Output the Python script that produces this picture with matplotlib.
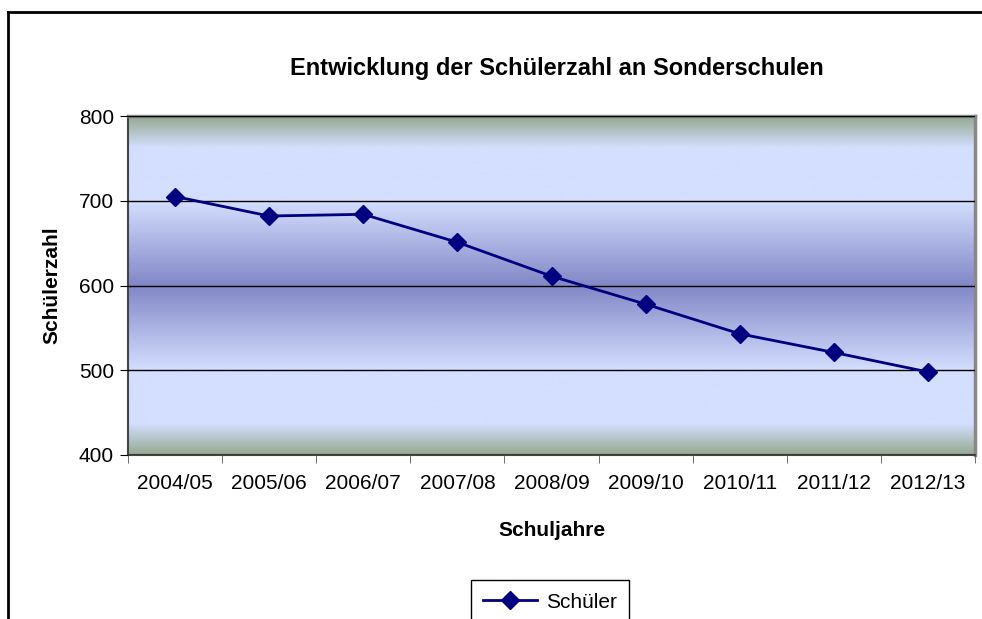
import numpy as np
import matplotlib
matplotlib.use('Agg')
import matplotlib.pyplot as plt
from matplotlib.colors import LinearSegmentedColormap
from matplotlib.lines import Line2D

plt.rcParams['font.family'] = ['Liberation Sans', 'DejaVu Sans']

# Data
schuljahre = ['2004/05', '2005/06', '2006/07', '2007/08', '2008/09',
              '2009/10', '2010/11', '2011/12', '2012/13']
schueler = [705, 682, 684, 651, 611, 578, 543, 521, 498]

fig = plt.figure(figsize=(9.82, 6.19), dpi=100)
ax = fig.add_axes([128 / 982, 1 - 455 / 619, 847 / 982, 339 / 619])

# Background gradient (Excel style)
cmap = LinearSegmentedColormap.from_list('bg', [
    (0.0, '#96aa92'), (0.09, '#d4defe'), (0.25, '#d4defe'),
    (0.5, '#8287c6'), (0.75, '#d4defe'), (0.91, '#d4defe'), (1.0, '#96aa92')])
grad = np.linspace(0, 1, 400).reshape(-1, 1)
ax.imshow(grad, cmap=cmap, aspect='auto', extent=[0, 1, 0, 1],
          transform=ax.transAxes, origin='lower', zorder=0)

x = np.arange(len(schuljahre))
ax.plot(x, schueler, color='#000080', linewidth=2, marker='D', markersize=9,
        label='Schüler', zorder=3)

ax.set_xlim(-0.5, len(schuljahre) - 0.5)
ax.set_ylim(400, 800)
ax.set_yticks([400, 500, 600, 700, 800])
ax.yaxis.grid(True, color='black', linewidth=1, zorder=1)
ax.set_axisbelow(False)
ax.set_xticks(x)
ax.set_xticklabels(schuljahre, fontsize=15)
ax.set_xticks(np.arange(-0.5, len(schuljahre)), minor=True)
ax.tick_params(axis='x', which='major', length=0, pad=14)
ax.tick_params(axis='x', which='minor', length=6, direction='out', color='#555555')
ax.tick_params(axis='y', labelsize=15, length=6, direction='out', pad=4)

for s in ['left', 'bottom']:
    ax.spines[s].set_color('#444444')
    ax.spines[s].set_linewidth(1.5)
for s in ['top', 'right']:
    ax.spines[s].set_color('#888888')
    ax.spines[s].set_linewidth(2.5)

fig.text(557 / 982, 1 - 68 / 619, 'Entwicklung der Schülerzahl an Sonderschulen',
         fontsize=17, fontweight='bold', ha='center', va='center')
ax.set_xlabel('Schuljahre', fontsize=15, fontweight='bold', labelpad=20)
ax.set_ylabel('Schülerzahl', fontsize=15, fontweight='bold', labelpad=13)

fig.legend(loc='upper center', bbox_to_anchor=(550 / 982, 1 - 580 / 619),
           fontsize=15, frameon=True, fancybox=False, edgecolor='black',
           framealpha=1, handlelength=2.6, handletextpad=0.4, borderpad=0.6,
           borderaxespad=0)

# outer chart border (only top and left visible)
fig.add_artist(Line2D([8 / 982, 8 / 982], [-0.01, 1 - 12 / 619], color='black', linewidth=2))
fig.add_artist(Line2D([8 / 982, 1.01], [1 - 12 / 619, 1 - 12 / 619], color='black', linewidth=2))

fig.savefig('out.png', dpi=100)
